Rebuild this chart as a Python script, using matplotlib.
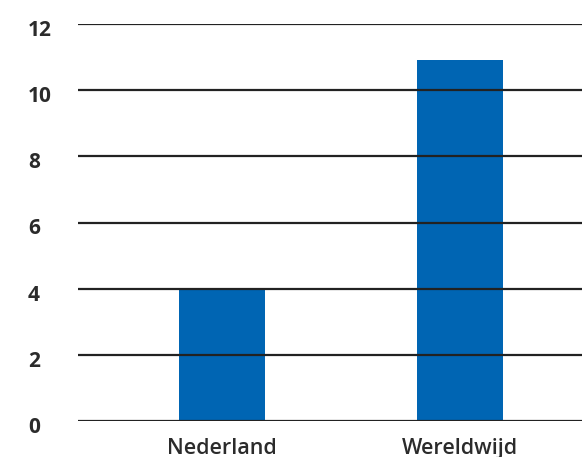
import matplotlib
matplotlib.use("Agg")
import matplotlib.pyplot as plt
import matplotlib.transforms as mtransforms

categories = ["Nederland", "Wereldwijd"]
values = [4.0, 10.9]
yticks = [0, 2, 4, 6, 8, 10, 12]

plt.rcParams['font.family'] = ['Open Sans', 'DejaVu Sans']

fig = plt.figure(figsize=(5.82, 4.57), dpi=100)
ax = fig.add_axes([78/582, 1-421/457, 1-78/582, (421-24)/457])

x = list(range(len(categories)))
ax.bar(x, values, width=0.36, color="#0065b3", zorder=1)
ax.set_ylim(0, 12)
ax.set_xlim(-0.605, 1.513)
ax.set_yticks(yticks)
ax.set_yticklabels([str(t) for t in yticks], fontsize=15, fontweight='bold', color="#2b2b2b")
ax.set_xticks(x)
ax.set_xticklabels(categories, fontsize=15.5, fontweight='semibold', color="#2b2b2b")
for t in yticks:
    ax.axhline(t, color="#222222", lw=1.6, zorder=3)
for s in ax.spines.values():
    s.set_visible(False)
ax.tick_params(axis='y', length=0, pad=36)
ax.tick_params(axis='x', length=0, pad=12)
off = mtransforms.ScaledTranslation(0, -4/100, fig.dpi_scale_trans)
for lbl in ax.get_yticklabels():
    lbl.set_horizontalalignment('left')
    lbl.set_transform(lbl.get_transform() + off)

fig.savefig("out.png", dpi=100)
